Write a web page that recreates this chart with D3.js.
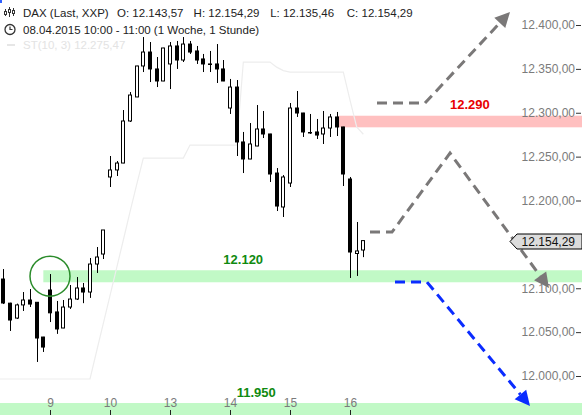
<!DOCTYPE html>
<html>
<head>
<meta charset="utf-8">
<script src="https://cdn.jsdelivr.net/npm/d3@7"></script>
<style>
  body { margin: 0; background: #fff; }
  svg { display: block; font-family: "Liberation Sans", Arial, sans-serif; }
</style>
</head>
<body>
<svg id="chart" width="582" height="415"></svg>
<script>
// hourly DAX candles, 9 bars per trading day (9:00 .. 17:00)
const dayLabels = ["8", "9", "10", "13", "14", "15", "16"];
const hoursPerDay = 9;
const firstSlot = 2; // first visible bar: 08.04. 11:00

const open = [
  12110.5, 12083.0, 12066.0, 12081.0, 12086.6, 12084.0, 12044.4,
  12098.0, 12073.0, 12054.7, 12078.6, 12087.7, 12100.3, 12095.7, 12127.6, 12139.0,
  12226.8, 12234.8, 12242.7, 12290.6, 12318.0, 12353.3, 12369.2, 12349.9, 12336.2,
  12355.6, 12376.1, 12360.1, 12378.3, 12370.4, 12361.3, 12355.6, 12355.6, 12349.9,
  12305.4, 12329.3, 12266.7, 12247.3, 12262.1, 12281.5, 12275.8, 12231.3, 12192.6,
  12219.9, 12305.4, 12299.7, 12277.5, 12278.1, 12275.8, 12282.6, 12295.2, 12283.8,
  12224.5, 12139.6, 12143.57
];
const high = [
  12121.9, 12083.5, 12082.5, 12095.7, 12099.1, 12084.3, 12044.6,
  12116.2, 12085.5, 12086.6, 12103.7, 12112.8, 12106.0, 12134.5, 12147.0, 12166.4,
  12250.7, 12245.0, 12303.1, 12323.6, 12353.5, 12386.3, 12380.6, 12363.5, 12374.0,
  12380.6, 12381.8, 12386.3, 12381.8, 12376.1, 12367.0, 12370.4, 12378.3, 12360.1,
  12338.5, 12337.3, 12278.1, 12288.3, 12308.8, 12302.0, 12276.0, 12237.0, 12229.0,
  12311.1, 12324.8, 12299.9, 12298.6, 12292.9, 12302.0, 12298.6, 12300.9, 12284.0,
  12226.8, 12175.5, 12154.29
];
const low = [
  12082.0, 12051.3, 12065.0, 12074.1, 12078.6, 12016.0, 12027.4,
  12061.5, 12048.0, 12054.5, 12076.4, 12086.6, 12083.0, 12089.0, 12117.4, 12133.3,
  12215.4, 12227.9, 12242.5, 12289.5, 12317.8, 12346.4, 12335.0, 12329.3, 12336.0,
  12327.0, 12349.9, 12357.8, 12367.0, 12355.6, 12346.4, 12346.4, 12333.9, 12336.0,
  12298.6, 12250.7, 12231.3, 12247.1, 12261.9, 12271.2, 12221.1, 12188.0, 12181.2,
  12215.4, 12295.2, 12272.4, 12275.8, 12270.1, 12264.4, 12272.4, 12273.5, 12216.5,
  12111.7, 12114.0, 12135.46
];
const close = [
  12083.2, 12063.8, 12081.0, 12086.6, 12082.0, 12043.3, 12033.0,
  12072.0, 12053.6, 12078.6, 12087.7, 12100.3, 12095.7, 12127.6, 12135.6, 12166.4,
  12234.8, 12242.7, 12290.6, 12320.2, 12353.3, 12369.2, 12349.9, 12336.2, 12373.8,
  12376.1, 12360.1, 12378.3, 12369.2, 12360.1, 12355.6, 12355.0, 12349.9, 12336.2,
  12329.3, 12266.7, 12247.3, 12264.4, 12281.5, 12275.8, 12230.2, 12193.7, 12226.8,
  12305.4, 12299.7, 12278.1, 12277.0, 12274.6, 12282.6, 12295.2, 12283.8, 12230.2,
  12141.3, 12142.5, 12154.29
];

// SuperTrend ST(10, 3), starting one bar earlier
const stStart = 1;
const superTrend = [
  11996.6, 11996.6, 11996.6, 11996.6, 11996.6, 11996.6, 11996.6, 11996.6,
  11996.6, 11996.6, 11996.6, 11996.6, 11996.6, 11996.6, 11996.6, 12028.5, 12060.0,
  12091.6, 12123.3, 12155.0, 12187.0, 12218.0, 12248.4, 12248.4, 12248.4, 12248.4,
  12248.4, 12248.4, 12248.4, 12263.2, 12263.2, 12263.2, 12263.2, 12263.2, 12263.2,
  12263.2, 12263.2, 12357.8, 12357.8, 12357.8, 12357.8, 12357.8, 12352.0, 12348.0,
  12346.4, 12346.4, 12346.4, 12346.4, 12346.4, 12346.4, 12346.4, 12346.4, 12346.4,
  12314.5, 12283.8, 12275.47
];

const yTicks = [12000, 12050, 12100, 12200, 12250, 12300, 12350, 12400];
const lastPrice = 12154.29;

// support / resistance zones [fromSlot, top, bottom]
const zones = [
  { from: 8, top: 12120.5, bottom: 12106.8, color: "#c1f9c6" },
  { from: 52.25, top: 12296.6, bottom: 12283.4, color: "#ffc0c0" },
  { from: 0, top: 11969.2, bottom: 11940, color: "#c1f9c6" }
];
const zoneLabels = [
  { text: "12.120", slot: 35, value: 12127.6, color: "#108a10" },
  { text: "11.950", slot: 37, value: 11975.6, color: "#108a10" },
  { text: "12.290", slot: 69, value: 12304.3, color: "#e80000" }
];

// drawn scenario arrows, points as [slot, price]
const arrows = [
  { color: "#7a7878", pts: [[58.05, 12311], [65.25, 12311], [78, 12414.8]] },
  { color: "#7a7878", pts: [[57, 12164], [60.3, 12164], [69, 12254], [83.85, 12100.3]] },
  { color: "#0b2cff", pts: [[60.75, 12107], [65.55, 12107], [81, 11965.8]] }
];
const circleMark = { slot: 9, value: 12113.8 };

const width = 582, height = 415;
const svg = d3.select("#chart");

const x = d3.scaleLinear().domain([9, 18]).range([50, 110]);
const y = d3.scaleLinear().domain([12000, 12400]).range([376, 25]);

const de = d3.formatLocale({ decimal: ",", thousands: ".", grouping: [3], currency: ["", ""] });
const fmt = de.format(",.2f");

// zones
svg.append("g").selectAll("rect")
  .data(zones)
  .join("rect")
  .attr("x", d => x(d.from))
  .attr("y", d => y(d.top))
  .attr("width", d => width - x(d.from))
  .attr("height", d => y(d.bottom) - y(d.top))
  .attr("fill", d => d.color);

// supertrend
svg.append("path")
  .datum(superTrend)
  .attr("fill", "none")
  .attr("stroke", "#ededed")
  .attr("stroke-width", 1.2)
  .attr("d", d3.line().x((d, i) => x(stStart + i)).y(d => y(d)));

// candles
const bars = open.map((o, i) => ({ slot: firstSlot + i, o, h: high[i], l: low[i], c: close[i] }));
const candle = svg.append("g").selectAll("g")
  .data(bars)
  .join("g")
  .attr("transform", d => `translate(${Math.round(x(d.slot))},0)`);

candle.append("line")
  .attr("x1", 0.5).attr("x2", 0.5)
  .attr("y1", d => y(d.h))
  .attr("y2", d => y(d.l))
  .attr("stroke", "#000");

candle.append("rect")
  .attr("x", -1.5)
  .attr("width", 3)
  .attr("y", d => y(Math.max(d.o, d.c)))
  .attr("height", d => Math.max(0.5, Math.abs(y(d.o) - y(d.c))))
  .attr("fill", d => d.c >= d.o ? "#fff" : "#000")
  .attr("stroke", "#000");

// circle on the breakout bar
svg.append("circle")
  .attr("cx", x(circleMark.slot))
  .attr("cy", y(circleMark.value))
  .attr("r", 20)
  .attr("fill", "none")
  .attr("stroke", "#2b8c2b")
  .attr("stroke-width", 1.5);

// arrows
arrows.forEach(a => {
  const p = a.pts.map(d => [x(d[0]), y(d[1])]);
  const tip = p[p.length - 1], prev = p[p.length - 2];
  const ang = Math.atan2(tip[1] - prev[1], tip[0] - prev[0]);
  const len = 15, half = 7.5;
  const base = [tip[0] - len * Math.cos(ang), tip[1] - len * Math.sin(ang)];
  const line = p.slice(0, -1).concat([base]);
  svg.append("path")
    .attr("d", d3.line()(line))
    .attr("fill", "none")
    .attr("stroke", a.color)
    .attr("stroke-width", 3)
    .attr("stroke-dasharray", "10,6");
  const nx = -Math.sin(ang), ny = Math.cos(ang);
  svg.append("path")
    .attr("d", d3.line()([
      tip,
      [base[0] + nx * half, base[1] + ny * half],
      [base[0] - nx * half, base[1] - ny * half]
    ]) + "Z")
    .attr("fill", a.color);
});

// zone labels
svg.append("g").selectAll("text")
  .data(zoneLabels)
  .join("text")
  .attr("x", d => x(d.slot))
  .attr("y", d => y(d.value))
  .attr("fill", d => d.color)
  .attr("font-size", 13)
  .attr("font-weight", "bold")
  .text(d => d.text);

// right price axis
const yAxis = svg.append("g")
  .attr("transform", `translate(${width - 1},0)`)
  .call(d3.axisLeft(y).tickValues(yTicks).tickSize(5).tickPadding(1).tickFormat(fmt));
yAxis.select(".domain").remove();
yAxis.selectAll("line").attr("stroke", "#333");
yAxis.selectAll("text").attr("fill", "#7b7b7b").attr("font-size", 12).attr("font-family", null);

// last price tag
const ly = Math.round(y(lastPrice)) + 0.5;
svg.append("path")
  .attr("d", `M510,${ly} L517,${ly - 7.5} L${width},${ly - 7.5} L${width},${ly + 7.5} L517,${ly + 7.5} Z`)
  .attr("fill", "#dcdcdc")
  .attr("stroke", "#000");
svg.append("text")
  .attr("x", width - 7)
  .attr("y", ly + 4.5)
  .attr("text-anchor", "end")
  .attr("font-size", 12)
  .attr("fill", "#111")
  .text(fmt(lastPrice));

// day axis
const dayTicks = dayLabels.slice(1).map((d, i) => firstSlot + 7 + i * hoursPerDay);
const xAxis = svg.append("g")
  .attr("transform", `translate(0,${height})`)
  .call(d3.axisTop(x).tickValues(dayTicks).tickSize(5).tickPadding(3)
    .tickFormat((d, i) => dayLabels[i + 1]));
xAxis.select(".domain").remove();
xAxis.selectAll("line").attr("stroke", "#222");
xAxis.selectAll("text").attr("fill", "#7b7b7b").attr("font-size", 12).attr("font-family", null);

// header
const head = svg.append("g").attr("font-size", 11.5).attr("fill", "#222");
svg.append("rect").attr("x", 0).attr("y", 0).attr("width", 2).attr("height", 3).attr("fill", "#3060ff");
// candle icon
[[5, 9, 16], [9, 7, 17], [13, 8, 16]].forEach(b => {
  head.append("line").attr("x1", b[0] + 0.5).attr("x2", b[0] + 0.5).attr("y1", b[1]).attr("y2", b[2]).attr("stroke", "#333");
  head.append("rect").attr("x", b[0] - 0.5).attr("y", b[1] + 2.5).attr("width", 2).attr("height", 3).attr("fill", "#fff").attr("stroke", "#333");
});
head.append("text").attr("x", 23).attr("y", 17).text("DAX (Last, XXP)");
const ohlc = [["O: ", open[open.length - 1]], ["H: ", high[high.length - 1]], ["L: ", low[low.length - 1]], ["C: ", close[close.length - 1]]];
ohlc.forEach((d, i) => head.append("text").attr("x", 117 + i * 76.6).attr("y", 17).text(d[0] + fmt(d[1])));
// clock icon
head.append("circle").attr("cx", 10).attr("cy", 29.5).attr("r", 5).attr("fill", "none").attr("stroke", "#333").attr("stroke-width", 1.3);
head.append("path").attr("d", "M10,26.5 V29.5 H12.5").attr("fill", "none").attr("stroke", "#333").attr("stroke-width", 1.2);
head.append("text").attr("x", 23).attr("y", 33.5).text("08.04.2015 10:00 - 11:00 (1 Woche, 1 Stunde)");
head.append("line").attr("x1", 7).attr("x2", 15).attr("y1", 45).attr("y2", 45).attr("stroke", "#e6e6e6").attr("stroke-width", 2);
head.append("text").attr("x", 23).attr("y", 48.5).attr("fill", "#e3e3e3")
  .text("ST(10, 3)  " + fmt(superTrend[superTrend.length - 1]));
</script>
</body>
</html>
